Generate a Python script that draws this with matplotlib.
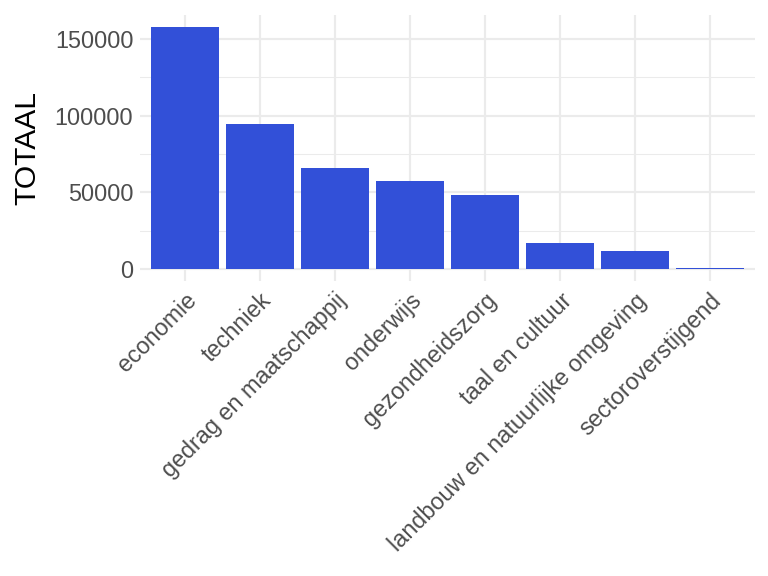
import matplotlib
matplotlib.use("Agg")
import matplotlib.pyplot as plt

categories = ["economie", "techniek", "gedrag en maatschappij", "onderwijs",
              "gezondheidszorg", "taal en cultuur", "landbouw en natuurlijke omgeving",
              "sectoroverstijgend"]
totaal = [157800, 94600, 65900, 57400, 48300, 17000, 11800, 600]
yticks = [0, 50000, 100000, 150000]

plt.rcParams['font.family'] = ['Liberation Sans', 'DejaVu Sans']

fig = plt.figure(figsize=(8, 6), dpi=96)
ax = fig.add_axes([140/768, 1-281/576, (755-140)/768, (281-15)/576])

x = list(range(1, len(categories)+1))
ax.bar(x, totaal, width=0.9, color='#3250D8', zorder=3)

ax.set_xlim(0.4, len(categories)+0.6)
ymax = max(totaal)
ax.set_ylim(-0.05*ymax, 1.05*ymax)

ax.set_yticks(yticks)
ax.set_yticklabels([str(v) for v in yticks])
ax.set_yticks([25000, 75000, 125000], minor=True)
ax.set_xticks(x)
ax.set_xticklabels(categories, rotation=45, ha='right', va='top', rotation_mode='anchor')

ax.grid(True, which='major', color='#EBEBEB', linewidth=1.6, zorder=0)
ax.grid(True, which='minor', axis='y', color='#EBEBEB', linewidth=0.8, zorder=0)
for s in ax.spines.values():
    s.set_visible(False)
ax.tick_params(axis='both', which='both', length=0, labelsize=17.5, labelcolor='#4D4D4D')
ax.tick_params(axis='y', pad=5)
ax.tick_params(axis='x', pad=6)
ax.set_ylabel("TOTAAL", fontsize=22.5, color='black', labelpad=10)

fig.savefig("out.png", dpi=96, facecolor='white')
